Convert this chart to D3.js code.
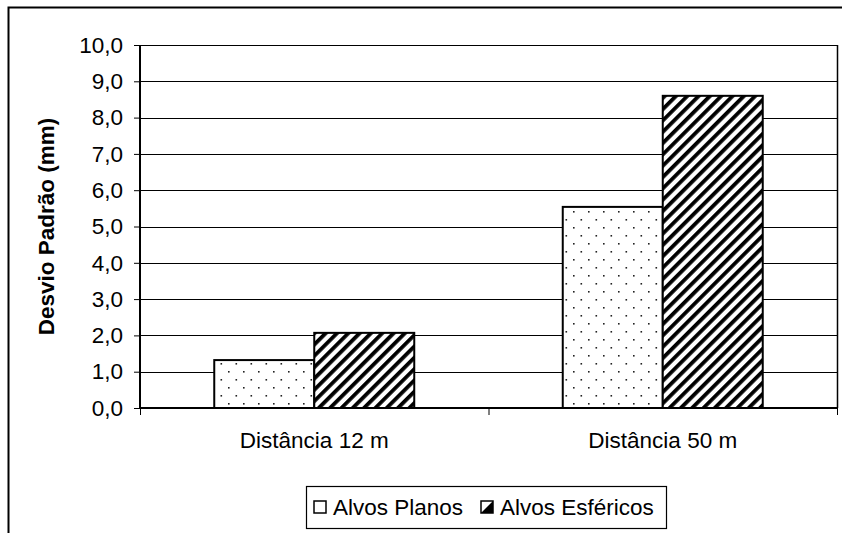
<!DOCTYPE html>
<html><head><meta charset="utf-8">
<script src="https://cdn.jsdelivr.net/npm/d3@7"></script>
<style>body{margin:0;background:#fff}svg{display:block;font-family:"Liberation Sans",Arial,sans-serif}</style>
</head><body>
<svg id="c" width="842" height="533"></svg>
<script>
const categories = ["Distância 12 m", "Distância 50 m"];
const seriesNames = ["Alvos Planos", "Alvos Esféricos"];
const planos = [1.32, 5.54];
const esfericos = [2.07, 8.6];
const yTicks = [0,1,2,3,4,5,6,7,8,9,10];
const yTitle = "Desvio Padrão (mm)";

const FS = 22.5;
const svg = d3.select("#c");
const defs = svg.append("defs");
// dotted pattern
const pd = defs.append("pattern").attr("id","dots").attr("patternUnits","userSpaceOnUse")
  .attr("width",15).attr("height",16).attr("x",0).attr("y",0);
pd.append("rect").attr("width",15).attr("height",16).attr("fill","#fff");
pd.append("rect").attr("x",3).attr("y",3).attr("width",1.6).attr("height",1.6).attr("fill","#222");
pd.append("rect").attr("x",10.5).attr("y",11).attr("width",1.6).attr("height",1.6).attr("fill","#222");
// diagonal stripes
const ps = defs.append("pattern").attr("id","stripes").attr("patternUnits","userSpaceOnUse")
  .attr("width",8).attr("height",8).attr("patternTransform","rotate(45)");
ps.append("rect").attr("width",8).attr("height",8).attr("fill","#fff");
ps.append("rect").attr("x",0).attr("width",3.8).attr("height",8).attr("fill","#000");

// outer frame
svg.append("path").attr("d","M8.5,533 V7.5 H842").attr("fill","none").attr("stroke","#000").attr("stroke-width",2);

const L=140, R=837, T=45, B=408;
const y = d3.scaleLinear().domain([0,10]).range([B,T]);
const x0 = d3.scaleBand().domain(categories).range([L,R]).paddingInner(0).paddingOuter(0);
const x1 = d3.scaleBand().domain(seriesNames).range([0,x0.bandwidth()]).paddingInner(0).paddingOuter(0.7425);

// gridlines
svg.append("g").selectAll("line").data(yTicks.slice(1)).join("line")
  .attr("x1",L).attr("x2",R).attr("y1",d=>Math.round(y(d))+0.5).attr("y2",d=>Math.round(y(d))+0.5)
  .attr("stroke","#000").attr("stroke-width",1);
// right border of plot area
svg.append("line").attr("x1",R+0.5).attr("x2",R+0.5).attr("y1",T).attr("y2",B).attr("stroke","#000").attr("stroke-width",1.5);

// bars
const data = categories.map((c,i)=>({c, vals:[{s:seriesNames[0],v:planos[i],f:"url(#dots)"},{s:seriesNames[1],v:esfericos[i],f:"url(#stripes)"}]}));
const g = svg.append("g");
data.forEach(d=>{
  g.selectAll(null).data(d.vals).join("rect")
    .attr("x",e=>x0(d.c)+x1(e.s)).attr("width",x1.bandwidth())
    .attr("y",e=>y(e.v)).attr("height",e=>B-y(e.v))
    .attr("fill",e=>e.f).attr("stroke","#000").attr("stroke-width",2);
});

// y axis
const ya = d3.axisLeft(y).tickValues(yTicks).tickSize(6).tickPadding(11)
  .tickFormat(d=>d3.format(".1f")(d).replace(".",","));
const yg = svg.append("g").attr("transform",`translate(${L},0)`).call(ya);
yg.attr("font-size",FS).attr("font-family","Liberation Sans, Arial");
yg.select(".domain").attr("stroke-width",2).attr("d",`M0,${T}V${B}`);
yg.selectAll("text").attr("fill","#000");
yg.selectAll(".tick line").attr("stroke","#000");

// x axis
const xa = d3.axisBottom(x0).tickSize(0).tickPadding(24);
const xg = svg.append("g").attr("transform",`translate(0,${B})`).call(xa);
xg.attr("font-size",FS).attr("font-family","Liberation Sans, Arial");
xg.select(".domain").attr("stroke-width",2).attr("d",`M${L},0H${R}`);
xg.selectAll("text").attr("fill","#000");
// x tick marks at band boundaries
svg.append("g").selectAll("line").data([L, x0(categories[1]), R]).join("line")
  .attr("x1",d=>d+0.5).attr("x2",d=>d+0.5).attr("y1",B).attr("y2",B+7).attr("stroke","#000");

// y title
svg.append("text").attr("transform",`translate(54,${(T+B)/2}) rotate(-90)`)
  .attr("text-anchor","middle").attr("font-size",FS).attr("font-weight","bold").text(yTitle);

// legend
const lg = svg.append("g").attr("font-size",FS);
lg.append("rect").attr("x",306.5).attr("y",486.5).attr("width",360).attr("height",42)
  .attr("fill","#fff").attr("stroke","#000").attr("stroke-width",1.2);
const legItems = [{s:seriesNames[0],x:314},{s:seriesNames[1],x:481}];
lg.selectAll("rect.sw").data(legItems).join("rect").attr("class","sw")
  .attr("x",d=>d.x).attr("y",501).attr("width",12).attr("height",12)
  .attr("fill","#fff").attr("stroke","#000").attr("stroke-width",1.5);
lg.append("path").attr("d",`M${legItems[1].x},513 L${legItems[1].x+12},501 L${legItems[1].x+12},513 Z`).attr("fill","#000");
lg.selectAll("text").data(legItems).join("text")
  .attr("x",d=>d.x+19).attr("y",515).text(d=>d.s);
</script>
</body></html>
